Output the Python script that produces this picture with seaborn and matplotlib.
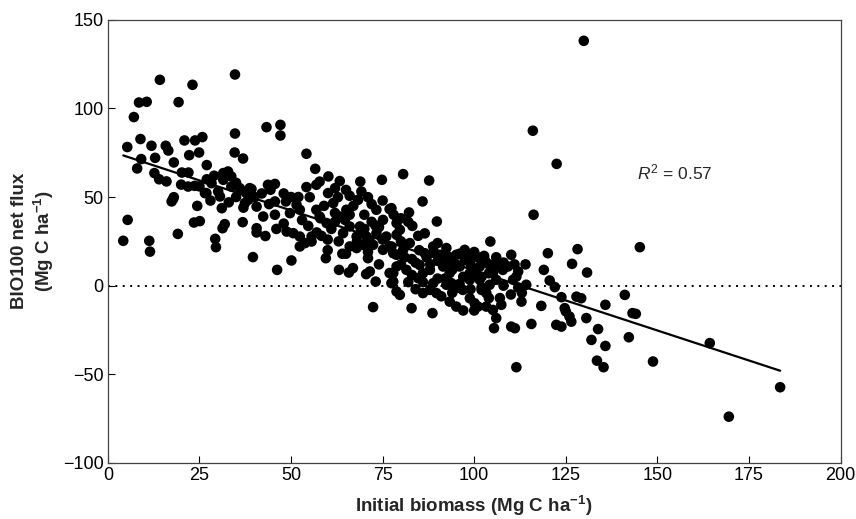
import numpy as np
import pandas as pd
import matplotlib
matplotlib.use("Agg")
import matplotlib.pyplot as plt
import seaborn as sns

# Initial biomass (Mg C/ha) and BIO100 net flux (Mg C/ha)
biomass = [
    14.2, 23.1, 34.7, 8.5, 10.6, 19.3, 7.1, 34.7, 5.3, 8.9, 11.9, 15.8, 16.5, 20.9, 23.8, 25.8, 24.9, 22.2,
    34.6, 36.9, 9.1, 12.9, 8.0, 12.7, 18.0, 16.0, 20.2, 22.0, 21.9, 23.7, 18.0, 31.5, 32.8, 33.7, 31.5, 28.3,
    30.1, 26.5, 33.7, 36.0, 38.7, 37.8,
    17.4, 17.8, 24.4, 5.4, 4.2, 11.3, 11.5, 19.1, 23.5, 25.1, 31.1, 31.9, 31.3, 29.3, 29.5, 36.8, 40.6, 39.6,
    30.6, 26.9, 37.4, 38.3,
    43.3, 47.1, 47.1, 54.2, 56.6, 60.2, 63.3, 68.9, 74.8, 57.8, 56.9, 54.2, 55.1, 43.7, 45.6, 44.4, 39.2, 60.1,
    62.8, 61.5, 66.0, 68.3, 69.2, 71.0, 45.6, 48.6, 51.5, 52.4, 40.6, 42.4, 40.6, 45.6, 49.7, 48.8, 50.6, 56.9,
    57.8, 59.7, 54.7, 52.4, 55.6, 58.3, 65.1, 64.7, 66.0, 68.8, 73.3, 76.9, 75.1, 78.8, 63.3, 64.2, 67.9, 70.6,
    73.3, 76.0, 52.4, 66.0, 69.7, 76.9,
    46.2, 50.1, 53.8, 55.6, 59.5, 63.1, 65.8, 66.9, 67.9, 71.0, 71.5, 70.5, 73.1, 72.4, 76.9, 77.9, 78.8, 72.4,
    75.1, 77.9, 71.5,
    80.6, 87.7, 85.9, 82.2, 77.4, 89.8, 83.1, 79.7, 78.8, 84.7, 86.5, 104.4, 102.7, 105.9, 110.1, 77.4, 80.6,
    82.4, 78.8, 88.8, 92.4, 97.4, 98.8, 95.1, 86.5, 90.6, 92.9, 97.4, 101.5, 105.1, 109.2,
    84.7, 79.7, 82.9, 88.6, 86.0, 87.9, 89.7, 88.8, 93.8, 95.1, 96.9, 93.3, 95.1, 98.8, 100.1, 101.0, 102.0,
    103.3, 104.2, 103.3, 105.1, 106.0, 107.4, 105.4, 110.1, 111.1, 111.5,
    78.8, 81.5, 85.1, 87.9, 91.5, 93.3, 96.0, 98.8, 100.5, 105.1, 107.8, 110.6, 98.8, 101.5, 92.4, 106.0, 77.9,
    77.4,
    116.2, 111.0, 111.5, 120.1, 128.2, 126.7, 130.8, 119.0, 120.6, 122.0, 114.2, 112.0, 123.8, 127.9, 129.2,
    141.1, 145.2, 135.8, 112.9, 118.3, 124.7,
    115.6, 122.4, 123.8, 125.0, 126.0, 126.5, 130.6, 133.8, 132.0, 135.8, 142.2, 143.2, 144.1, 133.5, 135.3,
    164.3, 148.8, 183.5, 169.5, 129.9, 116.0, 122.5,
    59, 62, 67, 70, 72, 61, 70, 74, 63, 68, 60, 64, 57, 53, 48, 46, 43, 62, 65, 72, 75, 78, 80, 82,
    83, 85, 88, 90, 94, 96, 99, 100, 103, 106, 108, 104, 97, 90, 86, 82, 80, 84, 91, 94, 99, 102, 108, 110,
    107, 100, 97, 112, 114, 113,
    27, 29, 35, 37, 40, 42, 35, 28, 33, 25, 20, 14, 27, 44, 48, 50, 52,
    81, 84, 87, 89, 92, 95, 98, 101, 104, 107, 83, 86, 92, 96, 100, 104, 80, 90, 94, 102,
    62, 66, 69, 73, 75, 65, 71, 58, 60, 74,
]
net_flux = [
    116.1, 113.3, 119.1, 103.3, 103.7, 103.5, 95.1, 85.8, 78.2, 82.7, 78.9, 78.9, 76.2, 81.9, 81.9, 83.8, 75.1,
    73.6, 75.1, 71.7, 71.4, 72.1, 66.1, 63.5, 69.5, 58.8, 63.8, 63.8, 55.9, 56.3, 49.9, 63.5, 64.4, 61.6, 59.7,
    57.8, 53.1, 52.2, 55.9, 55.0, 55.0, 52.2,
    47.5, 48.8, 45.0, 37.1, 25.3, 25.3, 19.2, 29.2, 35.6, 36.4, 43.7, 34.7, 32.4, 26.4, 21.7, 35.8, 30.0, 16.1,
    50.3, 52.2, 46.6, 48.4,
    89.4, 90.7, 84.7, 74.4, 65.9, 61.6, 59.0, 58.7, 59.7, 58.7, 56.9, 55.6, 49.9, 56.9, 57.4, 54.1, 54.5, 52.2,
    49.9, 46.6, 50.7, 48.4, 53.1, 49.9, 47.5, 47.5, 45.6, 42.8, 44.6, 39.0, 32.4, 40.0, 40.9, 30.5, 29.6, 42.8,
    39.0, 35.3, 33.7, 27.7, 27.7, 28.1, 42.8, 37.1, 33.4, 33.4, 42.8, 43.2, 37.1, 35.3, 39.0, 29.6, 27.7, 27.7,
    29.6, 27.7, 22.1, 22.1, 23.0, 22.1,
    8.9, 14.2, 24.0, 24.9, 15.5, 8.9, 7.4, 9.9, 21.2, 15.5, 8.0, 6.5, 2.3, -12.1, 7.1, 2.3, -3.3, 23.0,
    20.2, 18.3, 24.9,
    62.9, 59.3, 47.5, 41.3, 43.7, 36.2, 33.7, 31.5, 28.7, 28.1, 29.5, 24.9, 16.8, 13.0, 17.4, 22.1, 20.2,
    24.0, 17.4, 22.1, 21.2, 20.2, 16.4, 17.4, 18.3, 17.4, 16.4, 14.6, 10.8, 10.8, 10.8,
    4.2, -5.2, -12.7, -15.5, -4.2, -2.4, -4.2, 1.4, 1.4, -1.4, -2.4, -9.0, -11.8, -7.1, -9.9, -11.8, -2.4,
    -4.2, 0.5, -11.8, -13.7, -18.3, -10.8, -24.0, -23.1, -24.0, -46.0,
    10.8, 8.9, 11.7, 8.9, 10.8, 7.1, 10.8, 7.1, 9.0, 7.1, 8.9, 3.3, 3.3, 3.3, 0.5, 3.3, 7.1,
    1.4,
    40.0, 12.0, 5.1, 18.3, 20.6, 12.3, 7.4, 8.9, 2.9, -0.8, 0.5, -1.0, -6.5, -6.2, -7.1,
    -5.2, 21.7, -10.8, -9.0, -11.4, -12.7,
    -21.6, -22.1, -23.1, -14.5, -17.4, -20.3, -18.3, -24.5, -30.6, -34.0, -29.1, -15.5, -15.9, -42.3, -46.0,
    -32.4, -42.8, -57.3, -73.9, 138.1, 87.4, 68.7,
    45, 41, 45, 40, 36, 32, 32, 33, 25, 25, 20, 18, 30, 37, 35, 32, 28, 55, 54, 46, 48, 40, 38, 36,
    15, 20, 12, 14, 13, 18, 12, 19, 14, 16, 13, 7, 5, 4, 7, 2, 12, -2, -6, -4, -2, 5, 0, -5,
    -7, -14, -14, 8, 12, -4,
    60, 62, 50, 44, 50, 52, 58, 48, 47, 56, 57, 60, 68, 46, 52, 50, 50,
    16, 13, 16, 19, 15, 12, 15, 16, 12, 11, 6, 2, 4, 1, 6, -7, 25, 24, 9, -1,
    36, 40, 30, 34, 26, 18, 19, 38, 26, 12,
]
r2_label = "$R^2$ = 0.57"

df = pd.DataFrame({"biomass": biomass, "flux": net_flux})

sns.set_style("ticks")
plt.rcParams["font.family"] = ["Liberation Sans", "DejaVu Sans"]
plt.rcParams["mathtext.fontset"] = "custom"
plt.rcParams["mathtext.rm"] = "Liberation Sans"
plt.rcParams["mathtext.it"] = "Liberation Sans:italic"
plt.rcParams["mathtext.bf"] = "Liberation Sans:bold"

fig = plt.figure(figsize=(8.56, 5.19), dpi=100)
ax = fig.add_axes([0.126, 0.108, 0.856, 0.854])

ax.axhline(0, color="black", linestyle=(0, (1, 2.8)), linewidth=1.4, zorder=1)
sns.scatterplot(data=df, x="biomass", y="flux", ax=ax, color="black", s=58,
                edgecolor="none", zorder=3, legend=False)
sns.regplot(data=df, x="biomass", y="flux", ax=ax, scatter=False, ci=None,
            color="black", line_kws={"linewidth": 1.6, "zorder": 4})

ax.set_xlim(0, 200)
ax.set_ylim(-100, 150)
ax.set_xticks(np.arange(0, 201, 25))
ax.set_yticks(np.arange(-100, 151, 50))
ax.set_yticklabels(["\u2212100", "\u221250", "0", "50", "100", "150"])
ax.tick_params(direction="in", length=5, width=0.8, labelsize=13, colors="black", pad=3)
for sp in ax.spines.values():
    sp.set_linewidth(0.9)
    sp.set_color("#444444")

ax.set_xlabel("Initial biomass (Mg C ha$^{\\mathbf{-1}}$)", fontsize=13.5, fontweight="bold", labelpad=7)
ax.set_ylabel("BIO100 net flux\n(Mg C ha$^{\\mathbf{-1}}$)", fontsize=13.5, fontweight="bold", labelpad=5)
ax.text(144.3, 64, r2_label, fontsize=12.5, va="center", ha="left")

fig.savefig("out.png", dpi=100)
